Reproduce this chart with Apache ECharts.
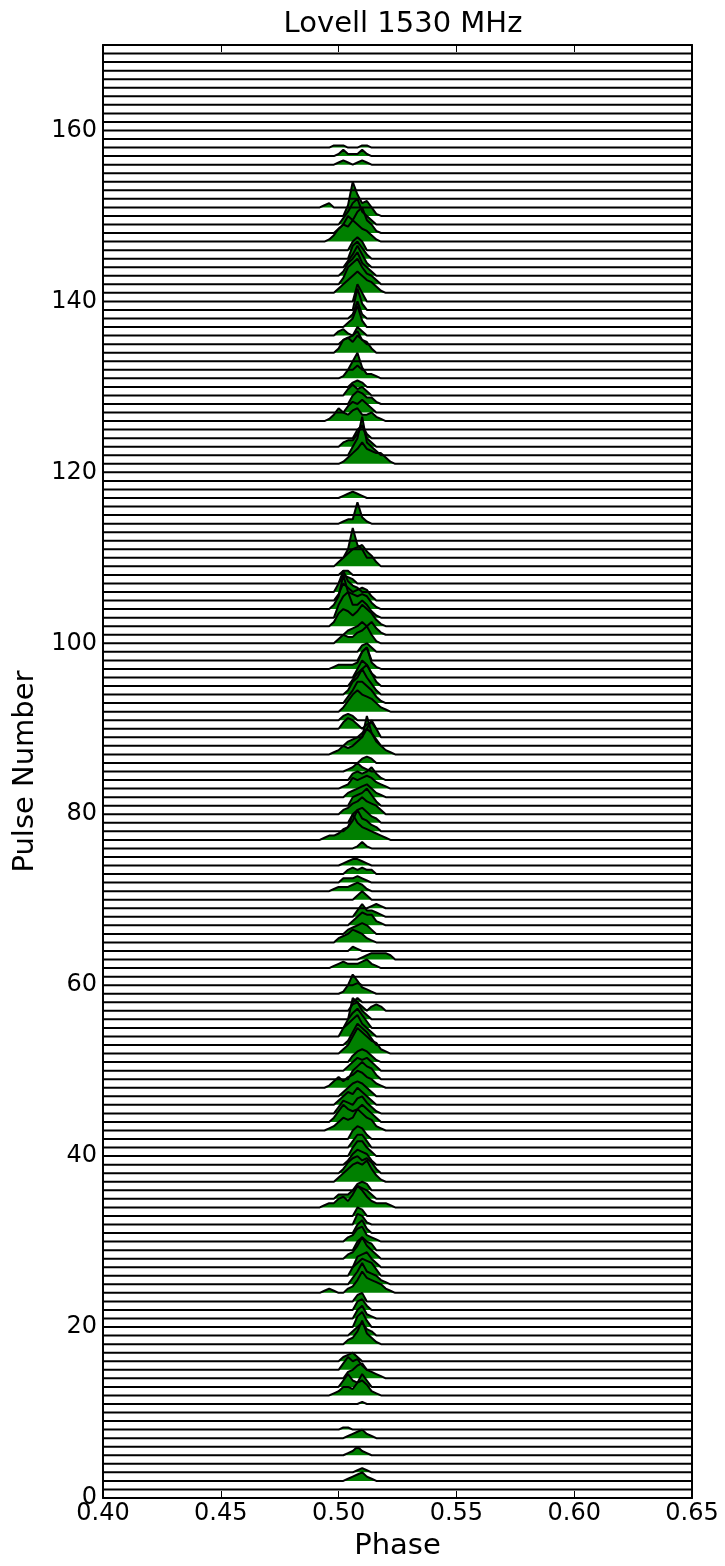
<!DOCTYPE html>
<html lang="en">
<style>
  body {
    margin: 0;
    background: #fff;
  }

  #container {
    width: 725px;
    height: 1566px;
  }
</style>

<head>
  <meta charset="UTF-8">
  <script src="https://cdn.jsdelivr.net/npm/echarts@6/dist/echarts.min.js"></script>
</head>

<body>
  <div id="container"></div>
  <script>
    // phase window where the emission sits
    var phaseGrid = [0.490, 0.492, 0.494, 0.496, 0.498, 0.500, 0.502, 0.504, 0.506, 0.508, 0.510,
      0.512, 0.514, 0.516, 0.518, 0.520, 0.522, 0.524, 0.526, 0.528, 0.530];
    var phaseTicks = [0.40, 0.45, 0.50, 0.55, 0.60, 0.65];
    var pulseTicks = [0, 20, 40, 60, 80, 100, 120, 140, 160];

    // one string per pulse (pulse 1 first), one char per phaseGrid point,
    // base-36 digit = height in quarters of a pulse spacing ('' = no emission)
    var profiles = [
      '', '000000012342100000000', '000000000121000000000', '', '000000012421000000000',
      '', '000000012342100000000', '000000110000000000000', '', '',
      '000000000010000000000', '000012443675210000000', '000000363263000000000', '000000034674321000000', '000000364520000000000',
      '000000234200000000000', '', '0000000236b5310000000', '000000002463200000000', '000000000573000000000',
      '000000000462100000000', '000000000452000000000', '000000000340000000000', '0012100236a7654210000', '0000000036a6542100000',
      '000000004687630000000', '000000000567420000000', '0000000236a6420000000', '000000000464300000000', '000000023673210000000',
      '000000000462000000000', '000000000541000000000', '000000000430000000000', '001224536a85322210000', '000002224654200000000',
      '000000000343000000000', '00000246898a631000000', '000000257867520000000', '000000025765200000000', '000000004774200000000',
      '000000003663000000000', '000000004652000000000', '000124656a86521000000', '000025865686420000000', '000003654785310000000',
      '000002465864200000000', '000000246764200000000', '000135356875421000000', '000000004686520000000', '000000024656420000000',
      '000000003565310000000', '000000248ca8652100000', '000000026a86300000000', '000000468a64200000000', '000000047963000000000',
      '00000000a842000000000', '000000003420232000000', '000000000200000000000', '000000149632100000000', '000000000100000000000',
      '', '000012322234210000000', '000000000012333320000', '000000002100000000000', '000002346542100000000',
      '000000023454200000000', '000000002465521000000', '000000000363321000000', '000000000000121000000', '000000000242000000000',
      '000012223431000000000', '000000222321000000000', '000000023232200000000', '000000123321000000000', '',
      '000000000131000000000', '00122356c865432100000', '000000025a65320000000', '000000004675320000000', '000000235686542000000',
      '000000004568520000000', '000000023456421000000', '000000125456532100000', '000000003434631000000', '000000012421000000000',
      '000000000023200000000', '00001243468ia64210000', '000000023448630000000', '000000000024840000000', '000000354202300000000',
      '000000232000000000000', '000000258a87642100000', '000000036aa8631000000', '0000000268c8520000000', '00000000368a620000000',
      '000000000486200000000', '00001222238a310000000', '000000000046000000000', '000000000034200000000', '000002433568410000000',
      '000000023464631000000', '0000268757a8631000000', '000006ac6686310000000', '000026g87676310000000', '000003864565200000000',
      '000004a53200000000000', '000000432000000000000', '000000220000000000000', '0000024689a7520000000', '00000004e640000000000',
      '', '', '', '000000122a31000000000', '',
      '', '000000123210000000000', '', '', '',
      '0000001357a7655310000', '0000000048i6420000000', '0000002336a4200000000', '000000000462000000000', '',
      '000136435633421000000', '000000035464200000000', '000000004653310000000', '000000035342000000000', '000000002320000000000',
      '000000148c52210000000', '000000000200000000000', '', '000002675865200000000', '000000234620000000000',
      '000002310420000000000', '000000024a30000000000', '000000002820000000000', '000000000a30000000000', '000000000840000000000',
      '000002468a86531000000', '00000038ac85420000000', '000000268b64200000000', '000000036a62000000000', '000000006852000000000',
      '000000004640000000000', '00013687a865310000000', '000002486ac6410000000', '00000036ac64200000000', '00000005ga67410000000',
      '001200000000000000000', '', '', '', '',
      '000001210121000000000', '000001311131000000000', '000011100011000000000', '', '',
      '', '', '', '', '',
      '', '', '', ''
    ];

    var myChart = echarts.init(document.getElementById('container'));
    var font = 'DejaVu Sans';
    var xMin = phaseTicks[0], xMax = phaseTicks[phaseTicks.length - 1];

    var series = [];
    for (var i = 0; i < profiles.length; i++) {
      var base = i + 1;
      var pts = [[xMin, base]];
      for (var j = 0; j < phaseGrid.length; j++) {
        var ch = profiles[i].charAt(j);
        var h = ch ? parseInt(ch, 36) * 0.25 : 0;
        pts.push([phaseGrid[j], base + h]);
      }
      pts.push([xMax, base]);
      series.push({
        type: 'line',
        data: pts,
        showSymbol: false,
        silent: true,
        lineStyle: { color: '#000', width: 2 },
        areaStyle: { color: '#008000', opacity: 1, origin: base }
      });
    }

    var tickStyle = { show: true, inside: true, length: 7, lineStyle: { color: '#000', width: 1 } };

    var option = {
      animation: false,
      title: {
        text: 'Lovell 1530 MHz',
        left: 398,
        textAlign: 'center',
        top: 5,
        textStyle: { fontFamily: font, fontSize: 29, fontWeight: 'normal', color: '#000' }
      },
      grid: { left: 103, right: 33, top: 45, bottom: 65 },
      xAxis: [{
        type: 'value',
        min: xMin,
        max: xMax,
        interval: 0.05,
        name: 'Phase',
        nameLocation: 'middle',
        nameGap: 34,
        nameTextStyle: { fontFamily: font, fontSize: 29, color: '#000' },
        axisLine: { onZero: false, lineStyle: { color: '#000', width: 2 } },
        axisTick: tickStyle,
        axisLabel: {
          fontFamily: font, fontSize: 24, color: '#000', margin: 4,
          formatter: function (v) { return v.toFixed(2); }
        },
        splitLine: { show: false }
      }, {
        type: 'value',
        position: 'top',
        min: xMin,
        max: xMax,
        interval: 0.05,
        axisLine: { onZero: false, lineStyle: { color: '#000', width: 2 } },
        axisTick: tickStyle,
        axisLabel: { show: false },
        splitLine: { show: false }
      }],
      yAxis: [{
        type: 'value',
        min: 0,
        max: 170,
        interval: 20,
        name: 'Pulse Number',
        nameLocation: 'middle',
        nameGap: 44,
        nameTextStyle: { fontFamily: font, fontSize: 29, color: '#000' },
        axisLine: { show: true, onZero: false, lineStyle: { color: '#000', width: 2 } },
        axisTick: tickStyle,
        axisLabel: {
          fontFamily: font, fontSize: 24, color: '#000', margin: 6,
          formatter: function (v) { return pulseTicks.indexOf(v) >= 0 ? String(v) : ''; }
        },
        splitLine: { show: false }
      }, {
        type: 'value',
        position: 'right',
        min: 0,
        max: 170,
        interval: 20,
        axisLine: { show: true, onZero: false, lineStyle: { color: '#000', width: 2 } },
        axisTick: tickStyle,
        axisLabel: { show: false },
        splitLine: { show: false }
      }],
      series: series
    };

    myChart.setOption(option);
  </script>
</body>

</html>
